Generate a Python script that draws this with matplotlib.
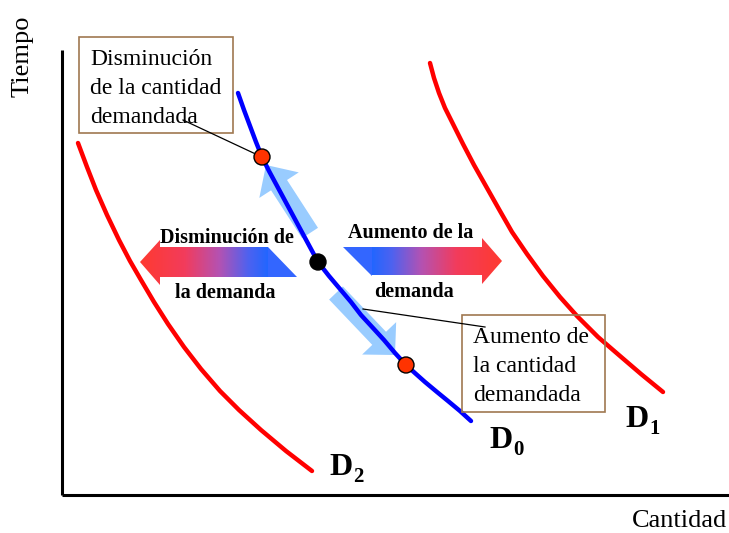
import numpy as np
import matplotlib.pyplot as plt
from matplotlib.patches import Polygon, Rectangle, Circle, FancyArrow
from matplotlib.colors import LinearSegmentedColormap

plt.rcParams['font.family'] = ['Liberation Serif', 'DejaVu Serif']

# curves (image coordinates, y grows downward)
d2_x = [78, 87, 96, 107, 119, 130, 141, 154, 168, 184, 201, 220, 239, 261, 286, 312]
d2_y = [143, 167, 190, 215, 240, 261, 280, 302, 324, 347, 369, 391, 410, 430, 451, 471]
d0_x = [238, 244, 250, 256, 262, 269, 276, 283, 290, 297, 304, 311, 318, 329, 340,
        351, 361, 373, 384, 395, 406, 416, 425, 437, 448, 460, 471]
d0_y = [93, 110, 126, 142, 157, 171, 184, 197, 210, 223, 236, 249, 262, 276, 289,
        302, 315, 328, 340, 353, 365, 374, 382, 392, 401, 411, 421]
d1_x = [430, 434, 439, 445, 453, 463, 474, 487, 500, 512, 527, 543, 560, 577, 598, 620, 641, 663]
d1_y = [63, 78, 93, 108, 124, 144, 165, 188, 211, 232, 254, 276, 297, 316, 337, 356, 374, 392]

# points on D0
red_pts = [(262, 157), (406, 365)]
black_pt = (318, 262)

box_texts = [["Disminución", "de la cantidad", "demandada"],
             ["Aumento de", "la cantidad", "demandada"]]

fig = plt.figure(figsize=(7.29, 5.33), dpi=100)
ax = fig.add_axes([0, 0, 1, 1])
ax.set_xlim(0, 729)
ax.set_ylim(533, 0)
ax.axis('off')

# axes lines
ax.plot([62, 62], [50, 495], color='black', lw=2.2, solid_capstyle='butt')
ax.plot([62, 729], [495, 495], color='black', lw=2.2, solid_capstyle='butt')
ax.text(23, 56, "Tiempo", rotation=90, ha='center', va='center', fontsize=19)
ax.text(680, 527, "Cantidad", ha='center', va='baseline', fontsize=19)

# light blue movement arrows
ax.add_patch(FancyArrow(310, 233, -44, -68, width=19, head_width=47, head_length=24,
                        length_includes_head=True, color='#99ccff', lw=0, zorder=2))
ax.add_patch(FancyArrow(336, 293, 59, 62, width=19, head_width=47, head_length=23,
                        length_includes_head=True, color='#99ccff', lw=0, zorder=2))

# demand curves
ax.plot(d2_x, d2_y, color='red', lw=3.2, solid_capstyle='round', solid_joinstyle='round', zorder=3)
ax.plot(d1_x, d1_y, color='red', lw=3.2, solid_capstyle='round', solid_joinstyle='round', zorder=3)
ax.plot(d0_x, d0_y, color='#0000ff', lw=3.2, solid_capstyle='round', solid_joinstyle='round', zorder=3)

# gradient arrows
cmap = LinearSegmentedColormap.from_list('rb', [(0, '#ff3a30'), (0.35, '#f23c5c'),
                                                 (0.62, '#b452b2'), (0.85, '#4d62f0'),
                                                 (1, '#2266ff')])
grad = np.linspace(0, 1, 256).reshape(1, -1)

left_poly = Polygon([(268, 247), (160, 247), (160, 240), (140, 262), (160, 285),
                     (160, 277), (268, 277)], closed=True, fc='none', ec='none')
ax.add_patch(left_poly)
im = ax.imshow(grad, cmap=cmap, extent=(140, 268, 285, 240), aspect='auto', zorder=2)
im.set_clip_path(left_poly)
ax.add_patch(Polygon([(268, 247), (268, 277), (297, 277)], closed=True,
                     fc='#3366ff', ec='none', zorder=2))

right_poly = Polygon([(372, 247), (482, 247), (482, 238), (502, 261), (482, 284),
                      (482, 275), (372, 275)], closed=True, fc='none', ec='none')
ax.add_patch(right_poly)
im2 = ax.imshow(grad[:, ::-1], cmap=cmap, extent=(372, 502, 284, 238), aspect='auto', zorder=2)
im2.set_clip_path(right_poly)
ax.add_patch(Polygon([(343, 247), (372, 247), (372, 276)], closed=True,
                     fc='#3366ff', ec='none', zorder=2))

ax.set_xlim(0, 729)
ax.set_ylim(533, 0)

bold = dict(fontsize=14.5, fontweight='bold', ha='center', va='baseline')
ax.text(227, 243, "Disminución de", **bold)
ax.text(225, 298, "la demanda", **bold)
ax.text(411, 238, "Aumento de la", **bold)
ax.text(414, 297, "demanda", **bold)

# callout boxes
for (x0, y0, x1, y1), lines, tx, ty in [((79, 37, 233, 133), box_texts[0], 90, 65),
                                        ((462, 315, 605, 412), box_texts[1], 473, 343)]:
    ax.add_patch(Rectangle((x0, y0), x1 - x0, y1 - y0, fc='none', ec='#a07850', lw=1.2, zorder=4))
    for i, line in enumerate(lines):
        ax.text(tx, ty + i * 29, line, fontsize=17, ha='left', va='baseline', zorder=5)

ax.plot([183, 262], [120, 157], color='black', lw=0.9, zorder=4)
ax.plot([485, 363], [327, 309], color='black', lw=0.9, zorder=4)

# points
for (px, py) in red_pts:
    ax.add_patch(Circle((px, py), 8, fc='#ff3300', ec='black', lw=1, zorder=6))
ax.add_patch(Circle(black_pt, 8, fc='black', ec='black', lw=1, zorder=6))

# curve labels
dlab = dict(fontsize=23, fontweight='bold', ha='left', va='baseline')
sub = dict(fontsize=15, fontweight='bold', ha='left', va='baseline')
for lx, ly, s in [(489, 448, '0'), (625, 427, '1'), (329, 475, '2')]:
    ax.text(lx, ly, "D", **dlab)
    ax.text(lx + 24, ly + 7, s, **sub)

fig.savefig('out.png', dpi=100)
